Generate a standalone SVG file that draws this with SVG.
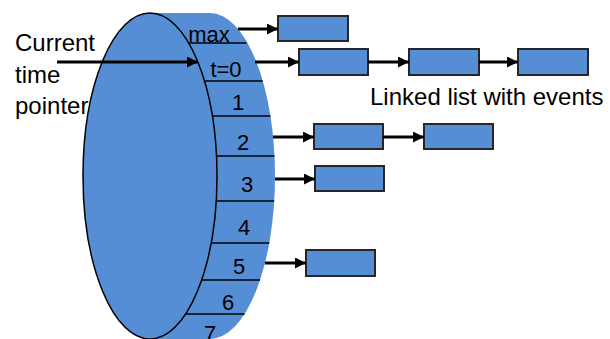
<svg xmlns="http://www.w3.org/2000/svg" width="610" height="339" viewBox="0 0 610 339">
<style>
.body{fill:#558ED5;stroke:none}
.front{fill:#558ED5;stroke:#000;stroke-width:1.5}
.slot{stroke:#000;stroke-width:1.5;fill:none}
.box{fill:#558ED5;stroke:#262626;stroke-width:2}
.lbl{font-family:"Liberation Sans",Arial,sans-serif;font-size:22px;fill:#000;text-anchor:middle}
.txt{font-family:"Liberation Sans",Arial,sans-serif;font-size:24px;fill:#000}
.arr{stroke:#000;stroke-width:3;fill:none;marker-end:url(#ah)}
</style>
<defs>
<marker id="ah" markerUnits="userSpaceOnUse" markerWidth="12" markerHeight="12" refX="11" refY="5.5" orient="auto">
<path d="M0,0 L11,5.5 L0,11 z" fill="#000"/>
</marker>
</defs>
<rect width="610" height="339" fill="#fff"/>
<g id="wheel">
<ellipse class="body" cx="210" cy="176" rx="65" ry="163"/>
<rect class="body" x="150" y="13" width="60" height="326"/>
<ellipse class="front" cx="150" cy="176" rx="67" ry="163"/>
<line class="slot" x1="188.7" y1="43" x2="246.5" y2="43"/>
<line class="slot" x1="204.4" y1="81" x2="262.7" y2="81"/>
<line class="slot" x1="212.3" y1="116" x2="270.4" y2="116"/>
<line class="slot" x1="216.5" y1="156" x2="274.5" y2="156"/>
<line class="slot" x1="216.2" y1="201" x2="274.2" y2="201"/>
<line class="slot" x1="211.1" y1="243" x2="269.3" y2="243"/>
<line class="slot" x1="201.6" y1="280" x2="260" y2="280"/>
<line class="slot" x1="185.7" y1="314" x2="244.6" y2="314"/>
<text class="lbl" x="209" y="42">max</text>
<text class="lbl" x="226" y="77">t=0</text>
<text class="lbl" x="238" y="110">1</text>
<text class="lbl" x="243" y="150">2</text>
<text class="lbl" x="247" y="192">3</text>
<text class="lbl" x="244" y="235">4</text>
<text class="lbl" x="239" y="274">5</text>
<text class="lbl" x="228" y="310">6</text>
<text class="lbl" x="210" y="341">7</text>
</g>
<g id="pointer-label">
<text class="txt" x="15" y="51">Current</text>
<text class="txt" x="15" y="83">time</text>
<text class="txt" x="15" y="114">pointer</text>
</g>
<g id="list-label">
<text class="txt" x="370" y="105">Linked list with events</text>
</g>
<g id="box-max"><rect class="box" x="278" y="16" width="70" height="25"/></g>
<g id="box-t0-1"><rect class="box" x="299" y="49" width="69" height="26"/></g>
<g id="box-t0-2"><rect class="box" x="409" y="49" width="70" height="26"/></g>
<g id="box-t0-3"><rect class="box" x="518" y="49" width="70" height="26"/></g>
<g id="box-2-1"><rect class="box" x="314" y="124" width="69" height="25"/></g>
<g id="box-2-2"><rect class="box" x="424" y="124" width="69" height="25"/></g>
<g id="box-3-1"><rect class="box" x="315" y="166" width="69" height="25"/></g>
<g id="box-5-1"><rect class="box" x="306" y="250" width="69" height="26"/></g>
<g id="connectors">
<line class="arr" x1="57" y1="62" x2="198" y2="62"/>
<line class="arr" x1="238" y1="29" x2="278" y2="29"/>
<line class="arr" x1="255" y1="62" x2="299" y2="62"/>
<line class="arr" x1="368" y1="62" x2="409" y2="62"/>
<line class="arr" x1="479" y1="62" x2="518" y2="62"/>
<line class="arr" x1="273" y1="137" x2="314" y2="137"/>
<line class="arr" x1="383" y1="137" x2="424" y2="137"/>
<line class="arr" x1="275" y1="179" x2="315" y2="179"/>
<line class="arr" x1="265" y1="263" x2="306" y2="263"/>
</g>
</svg>
